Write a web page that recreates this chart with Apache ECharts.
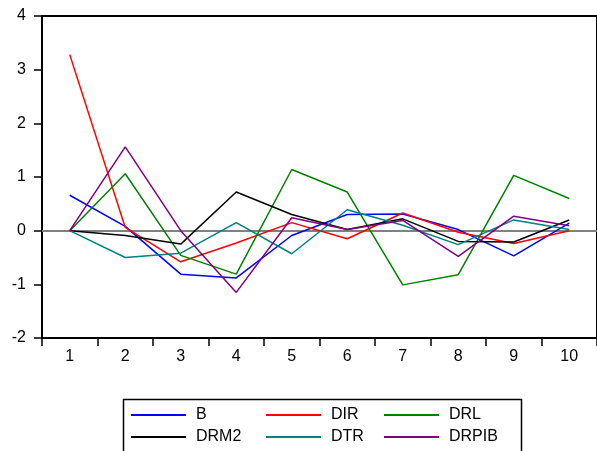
<!DOCTYPE html>
<html>
<head>
<meta charset="utf-8">
<script src="https://cdn.jsdelivr.net/npm/echarts@6/dist/echarts.min.js"></script>
<style>
  html, body { margin: 0; padding: 0; background: #fff; }
  #chart { width: 597px; height: 451px; }
</style>
</head>
<body>
<div id="chart"></div>
<script>
// Periods on the horizontal axis
const periods = ['1', '2', '3', '4', '5', '6', '7', '8', '9', '10'];

// Response paths, one per variable
const B     = [0.66, 0.08, -0.81, -0.88, -0.09, 0.30, 0.31, 0.02, -0.47, 0.14];
const DIR   = [3.28, 0.06, -0.58, -0.23, 0.15, -0.15, 0.33, -0.03, -0.24, 0.00];
const DRL   = [0.00, 1.06, -0.46, -0.81, 1.14, 0.72, -1.01, -0.82, 1.03, 0.60];
const DRM2  = [0.00, -0.09, -0.25, 0.72, 0.30, 0.02, 0.22, -0.20, -0.21, 0.20];
const DTR   = [0.00, -0.50, -0.42, 0.15, -0.43, 0.39, 0.10, -0.26, 0.20, 0.02];
const DRPIB = [0.00, 1.56, 0.00, -1.15, 0.24, 0.02, 0.19, -0.48, 0.27, 0.09];

// Y axis range and step
const yMin = -2, yMax = 4, yStep = 1;

const font = 'Liberation Sans, Arial, sans-serif';

const seriesDefs = [
  { name: 'B',     data: B,     color: '#0000ff' },
  { name: 'DIR',   data: DIR,   color: '#ff0000' },
  { name: 'DRL',   data: DRL,   color: '#008000' },
  { name: 'DRM2',  data: DRM2,  color: '#000000' },
  { name: 'DTR',   data: DTR,   color: '#008080' },
  { name: 'DRPIB', data: DRPIB, color: '#800080' }
];

const series = seriesDefs.map((s, i) => {
  const out = {
    name: s.name,
    type: 'line',
    data: s.data,
    symbol: 'none',
    showSymbol: false,
    animation: false,
    color: s.color,
    lineStyle: { color: s.color, width: 1.5 },
    z: 3 + i
  };
  if (i === 0) {
    // horizontal reference line at zero
    out.markLine = {
      silent: true,
      symbol: 'none',
      animation: false,
      label: { show: false },
      lineStyle: { color: '#808080', type: 'solid', width: 2 },
      data: [{ yAxis: 0 }],
      z: 1
    };
  }
  return out;
});

function legendCol(names, left) {
  return {
    orient: 'vertical',
    left: left,
    top: 407,
    padding: 0,
    height: 44,
    data: names,
    icon: 'rect',
    itemWidth: 55,
    itemHeight: 2,
    itemGap: 6,
    selectedMode: false,
    textStyle: { fontFamily: font, fontSize: 16, color: '#000', padding: [0, 0, 0, 5], lineHeight: 16 }
  };
}

const chart = echarts.init(document.getElementById('chart'), null, { renderer: 'canvas' });
chart.setOption({
  backgroundColor: '#fff',
  animation: false,
  grid: {
    left: 42, top: 16, bottom: 113, right: -2,
    show: true, borderColor: '#000', borderWidth: 2, backgroundColor: 'transparent'
  },
  xAxis: {
    type: 'category',
    data: periods,
    boundaryGap: true,
    axisLine: { onZero: false, lineStyle: { color: '#000', width: 2 } },
    axisTick: { show: true, length: 8, lineStyle: { color: '#000', width: 1.5 } },
    axisLabel: { color: '#000', fontFamily: font, fontSize: 16, margin: 11 },
    splitLine: { show: false }
  },
  yAxis: {
    type: 'value',
    min: yMin, max: yMax, interval: yStep,
    axisLine: { show: true, lineStyle: { color: '#000', width: 2 } },
    axisTick: { show: true, length: 8, lineStyle: { color: '#000', width: 1.5 } },
    axisLabel: { color: '#000', fontFamily: font, fontSize: 16, margin: 16 },
    splitLine: { show: false }
  },
  legend: [
    legendCol(['B', 'DRM2'], 131),
    legendCol(['DIR', 'DTR'], 266),
    legendCol(['DRL', 'DRPIB'], 384)
  ],
  graphic: [{
    type: 'rect',
    left: 121, top: 397,
    shape: { x: 0, y: 0, width: 398, height: 60 },
    style: { fill: 'none', stroke: '#000', lineWidth: 1.5 },
    silent: true
  }],
  series: series
});
</script>
</body>
</html>
